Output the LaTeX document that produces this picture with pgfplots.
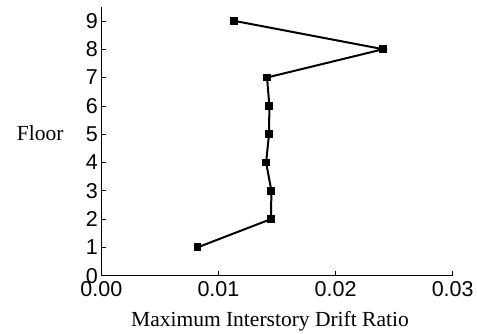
\documentclass[border=0pt]{standalone}
\usepackage{fontspec}
\setmainfont{Liberation Serif}
\setsansfont{Liberation Sans}
\usepackage{pgfplots}
\pgfplotsset{compat=1.18}
\begin{document}
\begin{tikzpicture}
\useasboundingbox (-101.3pt,-57.3pt) rectangle (375.7pt,275.7pt);
\begin{axis}[
  at={(0pt,0pt)}, anchor=south west,
  scale only axis,
  width=351.4pt, height=268.4pt,
  xmin=0, xmax=0.03, ymin=0, ymax=9.48,
  axis x line*=bottom, axis y line*=left,
  axis line style={line width=0.8pt},
  xtick={0,0.01,0.02,0.03},
  ytick={0,1,2,3,4,5,6,7,8,9},
  tick align=inside,
  major tick length=4.5pt,
  tick style={line width=0.6pt, black},
  /pgf/number format/assume math mode=true,
  xticklabel style={/pgf/number format/fixed, /pgf/number format/fixed zerofill, /pgf/number format/precision=2, yshift=-2pt},
  scaled x ticks=false,
  tick label style={font=\sffamily\fontsize{21.5}{24}\selectfont},
  xlabel={Maximum Interstory Drift Ratio},
  ylabel={Floor},
  xlabel style={at={(axis description cs:0.48,-0.191)}, anchor=base, rotate=0, font=\rmfamily\fontsize{21.5}{24}\selectfont},
  ylabel style={at={(axis description cs:-0.174,0.502)}, anchor=base, rotate=-90, font=\rmfamily\fontsize{21.5}{24}\selectfont},
  clip=false,
]
\addplot[black, line width=2pt, mark=square*, mark size=2.9pt, mark options={solid, fill=black}] coordinates {
  (0.00821,1)
  (0.01449,2)
  (0.01452,3)
  (0.01407,4)
  (0.01432,5)
  (0.01435,6)
  (0.01415,7)
  (0.02407,8)
  (0.01136,9)
};
\end{axis}
\end{tikzpicture}
\end{document}
